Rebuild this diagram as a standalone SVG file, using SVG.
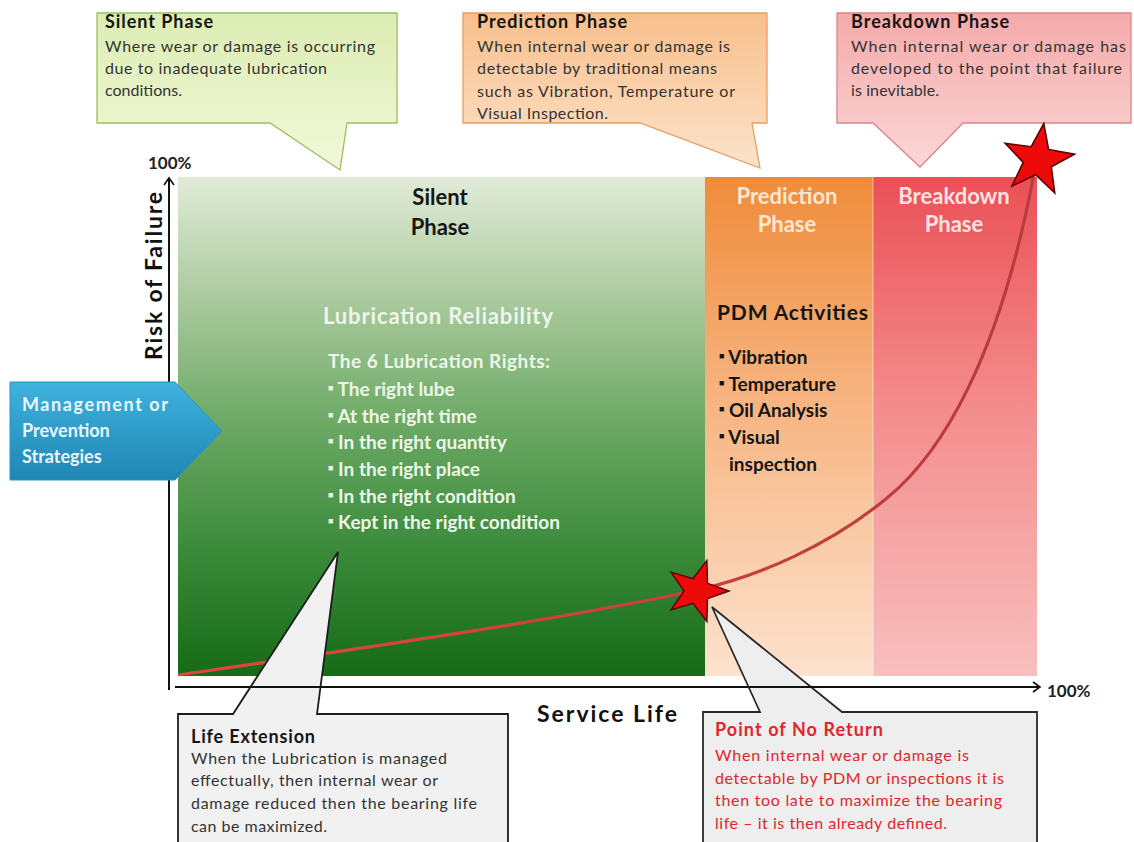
<svg xmlns="http://www.w3.org/2000/svg" width="1134" height="842" viewBox="0 0 1134 842">
  <defs>
    <linearGradient id="gSilent" x1="0" y1="0" x2="0" y2="1">
      <stop offset="0" stop-color="#e1ebd8"/>
      <stop offset="0.25" stop-color="#a9c99c"/>
      <stop offset="0.5" stop-color="#6aa863"/>
      <stop offset="0.75" stop-color="#3a8a3a"/>
      <stop offset="1" stop-color="#166b16"/>
    </linearGradient>
    <linearGradient id="gPredict" x1="0" y1="0" x2="0" y2="1">
      <stop offset="0" stop-color="#ef8c3a"/>
      <stop offset="0.4" stop-color="#f6b07a"/>
      <stop offset="1" stop-color="#fde2cd"/>
    </linearGradient>
    <linearGradient id="gBreak" x1="0" y1="0" x2="0" y2="1">
      <stop offset="0" stop-color="#ea5056"/>
      <stop offset="0.45" stop-color="#f48b8b"/>
      <stop offset="1" stop-color="#f9bfbf"/>
    </linearGradient>
    <linearGradient id="gCallGreen" x1="0" y1="0" x2="0" y2="1">
      <stop offset="0" stop-color="#dcedb3"/>
      <stop offset="1" stop-color="#f2f8d8"/>
    </linearGradient>
    <linearGradient id="gCallOrange" x1="0" y1="0" x2="0" y2="1">
      <stop offset="0" stop-color="#f8bf8c"/>
      <stop offset="1" stop-color="#fde3ca"/>
    </linearGradient>
    <linearGradient id="gCallPink" x1="0" y1="0" x2="0" y2="1">
      <stop offset="0" stop-color="#f5aaaa"/>
      <stop offset="1" stop-color="#fbd6d6"/>
    </linearGradient>
    <linearGradient id="gBlue" x1="0" y1="0" x2="0" y2="1">
      <stop offset="0" stop-color="#3fb2de"/>
      <stop offset="1" stop-color="#1f86b3"/>
    </linearGradient>
    <linearGradient id="gCurve" gradientUnits="userSpaceOnUse" x1="178" y1="0" x2="1035" y2="0">
      <stop offset="0" stop-color="#e2463e"/>
      <stop offset="1" stop-color="#b63c3e"/>
    </linearGradient>
    <marker id="chev" viewBox="0 0 12 12" refX="10" refY="6" markerWidth="12" markerHeight="12" markerUnits="userSpaceOnUse" orient="auto">
      <path d="M3,1 L10,6 L3,11" fill="none" stroke="#111" stroke-width="1.6"/>
    </marker>
    <polygon id="star" points="32,0 10.52,7.64 9.89,30.43 -4.02,12.36 -25.89,18.81 -13,0 -25.89,-18.81 -4.02,-12.36 9.89,-30.43 10.52,-7.64"/>
    <style>
      text { font-family: Lato, "Open Sans", "Liberation Sans", sans-serif; }
      .ct { font-size: 18px; font-weight: bold; fill: #151515; }
      .cb { font-size: 16px; fill: #333; }
      .ph { font-size: 22px; font-weight: bold; text-anchor: middle; }
      .wb { font-size: 19px; font-weight: bold; fill: #eef5ea; }
      .kb { font-size: 19px; font-weight: bold; fill: #151515; }
      .bul { font-size: 9px; }
      .ax { font-size: 23px; font-weight: bold; fill: #111; }
      .pct { font-size: 17px; font-weight: bold; fill: #222; }
      .red { fill: #e0262a; }
      .star { fill: #ee0a0a; stroke: #5a0000; stroke-width: 1.4; }
    </style>
  </defs>

  <rect width="1134" height="842" fill="#ffffff"/>

  <!-- phase panels -->
  <g id="panels">
    <rect id="panel-silent" x="178" y="177" width="527" height="499" fill="url(#gSilent)"/>
    <rect id="panel-prediction" x="705" y="177" width="168" height="499" fill="url(#gPredict)"/>
    <rect id="panel-breakdown" x="873" y="177" width="164" height="499" fill="url(#gBreak)"/>
    <line x1="873" y1="177" x2="873" y2="676" stroke="#ffffff" stroke-opacity="0.35" stroke-width="1.5"/>
  </g>

  <!-- risk curve -->
  <g id="curve">
    <path d="M178,675 C350,650 560,620 697,590 C760,576 830,545 887,498 C940,455 1000,360 1035,168" fill="none" stroke="url(#gCurve)" stroke-width="3.2"/>
  </g>

  <!-- panel texts -->
  <g id="silent-phase-label">
    <text class="ph" x="440" y="205" fill="#161616">Silent</text>
    <text class="ph" x="440" y="235" fill="#161616">Phase</text>
  </g>
  <g id="prediction-phase-label">
    <text class="ph" x="787" y="204" fill="#fde6d2">Prediction</text>
    <text class="ph" x="787" y="232" fill="#fde6d2">Phase</text>
  </g>
  <g id="breakdown-phase-label">
    <text class="ph" x="954" y="204" fill="#fde2e2">Breakdown</text>
    <text class="ph" x="954" y="232" fill="#fde2e2">Phase</text>
  </g>

  <g id="lubrication-reliability">
    <text x="323" y="324" font-size="22" font-weight="bold" fill="#eef5ea" textLength="230">Lubrication Reliability</text>
    <text class="wb" x="328" y="368" textLength="222">The 6 Lubrication  Rights:</text>
    <text class="wb" x="328" y="396"><tspan class="bul" dy="-5">■</tspan><tspan dy="5"> The right lube</tspan></text>
    <text class="wb" x="328" y="423"><tspan class="bul" dy="-5">■</tspan><tspan dy="5"> At the right time</tspan></text>
    <text class="wb" x="328" y="449"><tspan class="bul" dy="-5">■</tspan><tspan dy="5"> In the right quantity</tspan></text>
    <text class="wb" x="328" y="476"><tspan class="bul" dy="-5">■</tspan><tspan dy="5"> In the right place</tspan></text>
    <text class="wb" x="328" y="503"><tspan class="bul" dy="-5">■</tspan><tspan dy="5"> In the right condition</tspan></text>
    <text class="wb" x="328" y="529"><tspan class="bul" dy="-5">■</tspan><tspan dy="5"> Kept in the right condition</tspan></text>
  </g>

  <g id="pdm-activities">
    <text x="717" y="320" font-size="21" font-weight="bold" fill="#151515" textLength="151">PDM Activities</text>
    <text class="kb" x="719" y="364"><tspan class="bul" dy="-5">■</tspan><tspan dy="5"> Vibration</tspan></text>
    <text class="kb" x="719" y="391"><tspan class="bul" dy="-5">■</tspan><tspan dy="5"> Temperature</tspan></text>
    <text class="kb" x="719" y="417"><tspan class="bul" dy="-5">■</tspan><tspan dy="5"> Oil Analysis</tspan></text>
    <text class="kb" x="719" y="444"><tspan class="bul" dy="-5">■</tspan><tspan dy="5"> Visual</tspan></text>
    <text class="kb" x="729" y="471">inspection</text>
  </g>

  <!-- callouts -->
  <g id="callout-silent">
    <path d="M97,13 H397 V123 H347 L340,170 L270,123 H97 Z" fill="url(#gCallGreen)" stroke="#9cbf5e" stroke-width="1.3"/>
    <text class="ct" x="105" y="28" textLength="108">Silent Phase</text>
    <text class="cb" x="105" y="52" textLength="270">Where wear or damage is occurring</text>
    <text class="cb" x="105" y="74" textLength="222">due to  inadequate  lubrication</text>
    <text class="cb" x="105" y="96" textLength="77">conditions.</text>
  </g>

  <g id="callout-prediction">
    <path d="M463,13 H767 V123 H752 L760,168 L640,123 H463 Z" fill="url(#gCallOrange)" stroke="#e49f62" stroke-width="1.3"/>
    <text class="ct" x="477" y="28" textLength="150">Prediction Phase</text>
    <text class="cb" x="477" y="52" textLength="253">When internal  wear or damage is</text>
    <text class="cb" x="477" y="74" textLength="240">detectable  by traditional  means</text>
    <text class="cb" x="477" y="97" textLength="258">such as Vibration, Temperature  or</text>
    <text class="cb" x="477" y="119" textLength="131">Visual  Inspection.</text>
  </g>

  <g id="callout-breakdown">
    <path d="M837,13 H1131 V123 H963 L920,167 L873,123 H837 Z" fill="url(#gCallPink)" stroke="#d88787" stroke-width="1.3"/>
    <text class="ct" x="851" y="28" textLength="158">Breakdown Phase</text>
    <text class="cb" x="851" y="52" textLength="275">When internal  wear or damage has</text>
    <text class="cb" x="851" y="74" textLength="271">developed to the point that failure</text>
    <text class="cb" x="851" y="96" textLength="88">is inevitable.</text>
  </g>

  <g id="callout-life-extension">
    <path d="M178,714 H233 L338,552 L317,714 H508 V850 H178 Z" fill="#f1f1f1" stroke="#1c1c1c" stroke-width="1.8"/>
    <text class="ct" x="191" y="743" textLength="124">Life Extension</text>
    <text class="cb" x="191" y="764" textLength="256">When the  Lubrication  is managed</text>
    <text class="cb" x="191" y="786" textLength="247">effectually, then  internal wear or</text>
    <text class="cb" x="191" y="809" textLength="286">damage reduced  then the  bearing life</text>
    <text class="cb" x="191" y="832" textLength="136">can be maximized.</text>
  </g>

  <g id="callout-point-of-no-return">
    <path d="M703,712 H760 L712,607 L842,712 H1037 V850 H703 Z" fill="#eeeeee" stroke="#2a2a2a" stroke-width="1.8"/>
    <text class="ct red" x="715" y="736" textLength="168">Point of No Return</text>
    <text class="cb red" x="715" y="761" textLength="254">When internal  wear or damage is</text>
    <text class="cb red" x="715" y="784" textLength="289">detectable  by PDM or inspections  it is</text>
    <text class="cb red" x="715" y="806" textLength="287">then too late  to maximize  the bearing</text>
    <text class="cb red" x="715" y="829" textLength="232">life – it is then already defined.</text>
  </g>

  <!-- axes -->
  <g id="connectors">
    <line id="axis-y" x1="169" y1="690" x2="169" y2="178" stroke="#111" stroke-width="2" marker-end="url(#chev)"/>
    <line id="axis-x" x1="175" y1="687" x2="1040" y2="687" stroke="#111" stroke-width="2" marker-end="url(#chev)"/>
  </g>

  <g id="axis-labels">
    <text class="pct" x="148" y="169">100%</text>
    <text class="pct" x="1047" y="697">100%</text>
    <text class="ax" transform="translate(162,276) rotate(-90)" text-anchor="middle" textLength="168">Risk of Failure</text>
    <text class="ax" x="537" y="722" textLength="140">Service Life</text>
  </g>

  <!-- milestone stars -->
  <g id="star-no-return">
    <use href="#star" class="star" transform="translate(697,591)"/>
  </g>
  <g id="star-failure">
    <use href="#star" class="star" transform="translate(1038,160) rotate(-9) scale(1.15)"/>
  </g>

  <!-- strategy arrow -->
  <g id="management-arrow">
    <path d="M10,382 H175 L222,431 L175,480 H10 Z" fill="url(#gBlue)" stroke="#2d95c2" stroke-width="1"/>
    <text x="22" y="411" font-size="18" font-weight="bold" fill="#eaf6fc" textLength="146">Management or</text>
    <text x="22" y="437" font-size="18" font-weight="bold" fill="#eaf6fc">Prevention</text>
    <text x="22" y="463" font-size="18" font-weight="bold" fill="#eaf6fc">Strategies</text>
  </g>
</svg>
